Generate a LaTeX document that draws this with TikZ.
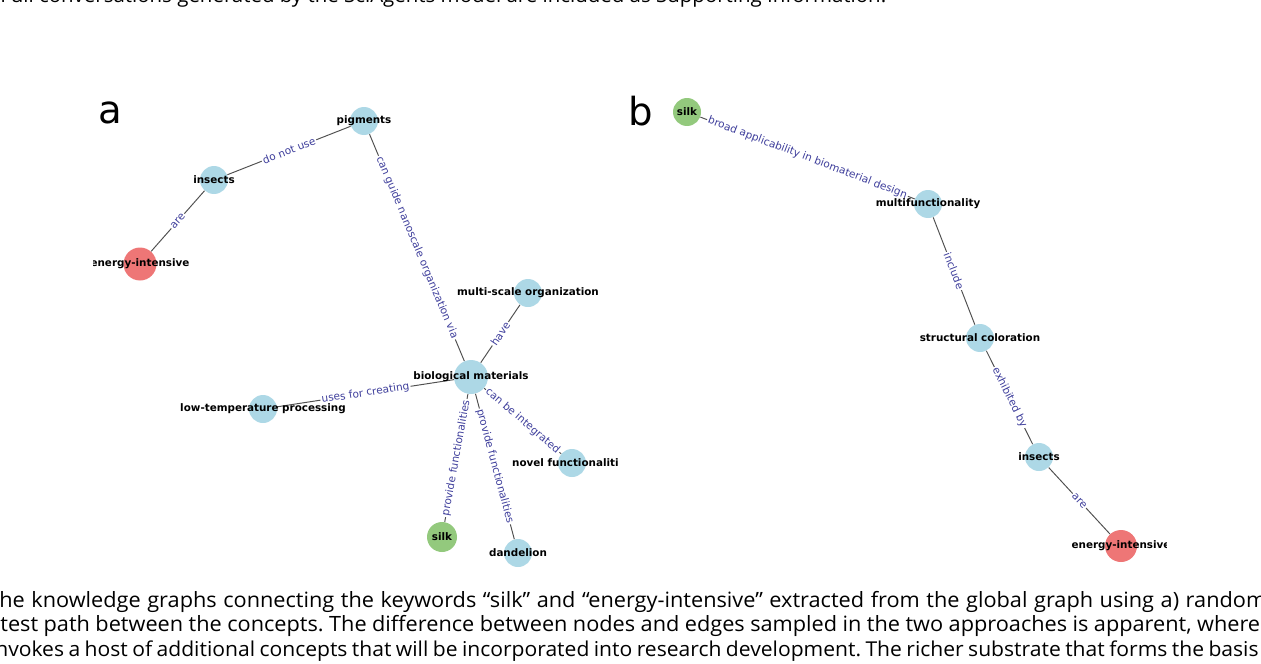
\documentclass[tikz,border=0pt]{standalone}
\usepackage{fontspec}
\usepackage{xcolor}
\newfontfamily\graphfont{DejaVu Sans}
\newfontfamily\capfont[FakeStretch=1.03]{Open Sans}
\definecolor{conceptblue}{HTML}{ADD8E6}
\definecolor{conceptgreen}{HTML}{93C97D}
\definecolor{conceptred}{HTML}{EE7676}
\definecolor{relblue}{HTML}{3F3F9C}
\definecolor{edgegray}{HTML}{505050}

\tikzset{
  concept/.style={circle, fill=conceptblue, inner sep=0pt, minimum size=0.56cm},
  conceptlabel/.style={inner sep=0pt, text=black, font=\graphfont\bfseries\fontsize{5.9}{6}\selectfont},
  relation/.style={draw=edgegray, line width=0.55pt},
  rellabel/.style={midway, sloped, fill=white, inner sep=0.7pt, text=relblue, font=\graphfont\fontsize{6}{7}\selectfont},
  panelletter/.style={inner sep=0pt, font=\graphfont\fontsize{22}{24}\selectfont},
  captionline/.style={anchor=base west, inner sep=0pt, font=\capfont\frenchspacing\fontsize{12}{14}\selectfont}
}

\begin{document}
\begin{tikzpicture}[x=0.02cm, y=-0.02cm]
    \useasboundingbox (0,0) rectangle (1261,663);
    \clip (0,0) rectangle (1261,663);

    % Caption text around the figure
    \node[captionline, font=\capfont\fontsize{11.3}{14}\selectfont] (captop) at (0,2) {Full conversations generated by the SciAgents model are included as Supporting Information.};
    \node[captionline] (capone) at (-1,607) {\makebox[721pt][s]{he knowledge graphs connecting the keywords “silk” and “energy-intensive” extracted from the global graph using a) random}};
    \node[captionline] (captwo) at (0,631.5) {\makebox[717pt][s]{test path between the concepts. The difference between nodes and edges sampled in the two approaches is apparent, where}};
    \node[captionline, font=\capfont\frenchspacing\fontsize{11.65}{14}\selectfont] (capthree) at (-5,656) {\makebox[719pt][s]{nvokes a host of additional concepts that will be incorporated into research development. The richer substrate that forms the basis}};

    % Panel letters
    \node[panelletter] (panela) at (110,113) {a};
    \node[panelletter] (panelb) at (641,111) {b};

    % Panel a: random path graph
    \begin{scope}
        \clip (93,60) rectangle (618,580);
        \node[concept] (pigments) at (364,121) {};
        \node[concept] (insectsa) at (214,180) {};
        \node[concept, fill=conceptred, minimum size=0.66cm] (energya) at (140,264) {};
        \node[concept] (multiscale) at (528,293) {};
        \node[concept, minimum size=0.68cm] (biomat) at (471,377) {};
        \node[concept] (lowtemp) at (263,409) {};
        \node[concept] (novel) at (572,463) {};
        \node[concept, fill=conceptgreen, minimum size=0.6cm] (silka) at (442,537) {};
        \node[concept] (dandelion) at (518,553) {};

        \draw[relation] (pigments) -- node[rellabel] {do not use} (insectsa);
        \draw[relation] (insectsa) -- node[rellabel] {are} (energya);
        \draw[relation] (pigments) -- node[rellabel] {can guide nanoscale organization via} (biomat);
        \draw[relation] (multiscale) -- node[rellabel] {have} (biomat);
        \draw[relation] (biomat) -- node[rellabel] {uses for creating} (lowtemp);
        \draw[relation] (biomat) -- node[rellabel] {can be integrated} (novel);
        \draw[relation] (biomat) -- node[rellabel] {provide functionalities} (silka);
        \draw[relation] (biomat) -- node[rellabel] {provide functionalities} (dandelion);

        \node[conceptlabel] at (pigments) {pigments};
        \node[conceptlabel] at (insectsa) {insects};
        \node[conceptlabel] at (energya) {energy-intensive};
        \node[conceptlabel] at (multiscale) {multi-scale organization};
        \node[conceptlabel] at (biomat) {biological materials};
        \node[conceptlabel] at (lowtemp) {low-temperature processing};
        \node[conceptlabel] at (novel) {novel functionalities};
        \node[conceptlabel] at (silka) {silk};
        \node[conceptlabel] at (dandelion) {dandelion};
    \end{scope}

    % Panel b: shortest path graph
    \begin{scope}
        \clip (625,60) rectangle (1166,580);
        \node[concept, fill=conceptgreen] (silkb) at (687,112) {};
        \node[concept] (multifunc) at (928,204) {};
        \node[concept] (structcol) at (980,338) {};
        \node[concept] (insectsb) at (1039,457) {};
        \node[concept, fill=conceptred, minimum size=0.64cm] (energyb) at (1121,546) {};

        \draw[relation] (silkb) -- node[rellabel] {broad applicability in biomaterial design} (multifunc);
        \draw[relation] (multifunc) -- node[rellabel] {include} (structcol);
        \draw[relation] (structcol) -- node[rellabel] {exhibited by} (insectsb);
        \draw[relation] (insectsb) -- node[rellabel] {are} (energyb);

        \node[conceptlabel] at (silkb) {silk};
        \node[conceptlabel] at (multifunc) {multifunctionality};
        \node[conceptlabel] at (structcol) {structural coloration};
        \node[conceptlabel] at (insectsb) {insects};
        \node[conceptlabel] at (energyb) {energy-intensive};
    \end{scope}
\end{tikzpicture}
\end{document}
